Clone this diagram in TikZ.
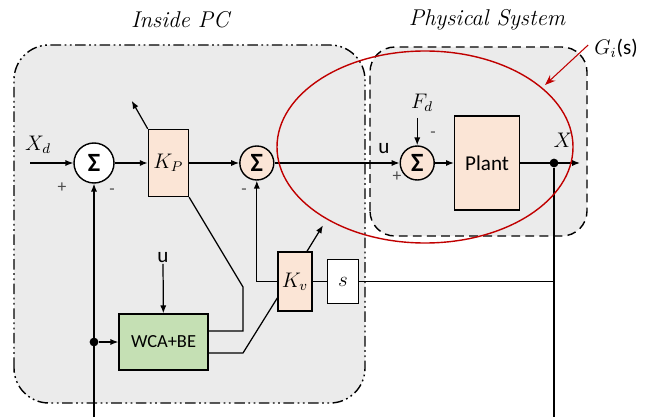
\documentclass[tikz,border=0pt]{standalone}
\usepackage{fontspec}
\newfontfamily\sansfam{Carlito}
\usepackage{amsmath}
\usetikzlibrary{arrows.meta, positioning, shapes.geometric}
\definecolor{peach}{HTML}{FBE5D6}
\definecolor{leaf}{HTML}{C5E0B4}
\definecolor{panel}{HTML}{EBEBEB}
\definecolor{ring}{HTML}{C00000}

\begin{document}
\begin{tikzpicture}[
  sumnode/.style={draw, thick, circle, fill=peach, minimum size=0.68cm, inner sep=0pt, font=\sansfam\fontsize{15}{18}\selectfont\bfseries},
  gain/.style={draw, thick, fill=peach, minimum width=0.8cm, minimum height=1.34cm, inner sep=0pt, font=\large},
  block/.style={draw, thick, fill=peach, inner sep=0pt, font=\sansfam\fontsize{12}{14}\selectfont},
  dot/.style={circle, fill, inner sep=0pt, minimum size=5pt},
  sign/.style={font=\sansfam\fontsize{10}{12}\selectfont, text=black!70},
  label/.style={font=\large},
  title/.style={font=\fontsize{13}{16}\selectfont\itshape},
  edge/.style={-{Latex[length=4.5pt,width=3.5pt]}, line width=0.7pt},
  wire/.style={line width=0.7pt}
]
\useasboundingbox (0,0) rectangle (13,8.34);

% the two frames
\draw[thick, fill=panel, rounded corners=0.7cm,
  dash pattern=on 6pt off 2pt on 1pt off 2pt on 1pt off 2pt] (0.28,0.28) rectangle (7.30,7.44);
\draw[thick, fill=panel, rounded corners=0.5cm, dash pattern=on 5pt off 3pt] (7.40,3.62) rectangle (11.74,7.40);
\node[title] (pctitle) at (3.60,7.94) {Inside PC};
\node[title] (systitle) at (9.74,7.94) {Physical System};

% forward path
\node[sumnode, fill=white, minimum size=0.8cm] (s1) at (1.88,5.08) {Σ};
\node[gain, right=0.66cm of s1] (kp) {$K_P$};
\node[sumnode, right=1.0cm of kp] (s2) {Σ};
\node[sumnode, right=2.5cm of s2] (s3) {Σ};
\node[block, right=0.38cm of s3, minimum width=1.3cm, minimum height=1.88cm] (plant) {Plant};
\node[dot] (tap) at (11.08,5.08) {};
\coordinate (xd) at (0.60,5.08);
\coordinate (xout) at (11.60,5.08);

% lower part
\node[gain, minimum width=0.68cm, minimum height=1.18cm] (kv) at (5.90,2.71) {$K_v$};
\node[block, fill=white, right=0.28cm of kv, minimum width=0.62cm, minimum height=0.88cm, font=\large] (deriv) {$s$};
\node[block, fill=leaf, minimum width=1.78cm, minimum height=1.12cm, font=\sansfam\fontsize{10.5}{12}\selectfont] (wca) at (3.27,1.50) {WCA+BE};
\node[dot] (fb) at (s1.south |- wca.west) {};
\coordinate (fbend) at (1.88,0);
\coordinate (tapend) at (11.08,0);

% labels
\node[label] (xdlabel) at (0.76,5.44) {$X_d$};
\node[label] (fdlabel) at (8.44,6.28) {$F_d$};
\node[label] (xlabel) at (11.26,5.54) {$X$};
\node[block, draw=none, fill=none] (ulabel) at (7.68,5.36) {u};
\node[block, draw=none, fill=none] (wcau) at (3.26,3.18) {u};
\node[sign] (p1) at (1.24,4.58) {+};
\node[sign] (m1) at (2.24,4.50) {-};
\node[sign] (m2) at (4.88,4.50) {-};
\node[sign] (m3) at (8.66,5.64) {-};
\node[sign] (p3) at (7.94,4.80) {+};

\draw[edge] (xd) -- (s1);
\draw[edge] (s1) -- (kp);
\draw[edge] (kp) -- (s2);
\draw[edge] (s2) -- (s3);
\draw[edge] (s3) -- (plant);
\draw[edge] (plant) -- (xout);
\draw[edge] (fdlabel.south -| s3.north) -- (s3.north);
\draw[wire] (tap) -- (tapend);
\draw[wire] (kv) -- (deriv);
\draw[wire] (deriv.east) -- (tap |- deriv.east);
\draw[edge] (kv.west) -| (s2.south);
\draw[edge] (fbend) -- (s1.south);
\draw[edge] (fb) -- (wca);
\draw[edge] (wcau) -- (wca);
\draw[wire] ([yshift=0.22cm]wca.east) -| (4.86,2.60) -- (kp.south east);
\draw[wire] ([yshift=-0.22cm]wca.east) -- (4.86,1.28) -- ([yshift=-0.33cm]kv.west);
\draw[edge] (kp.north west) -- ++(-0.32,0.56);
\draw[edge] ([xshift=0.24cm]kv.north) -- ++(0.32,0.52);

% the G_i(s) loop
\draw[ring, thick] (8.50,5.40) ellipse (2.96cm and 1.92cm);
\node[label] (gilabel) at (12.32,7.38) {$G_i$\sansfam(s)};
\coordinate (gitip) at (10.90,6.64);
\draw[ring, semithick, -{Stealth[length=6pt]}] ([yshift=0.06cm]gilabel.west) -- (gitip);
\end{tikzpicture}
\end{document}
